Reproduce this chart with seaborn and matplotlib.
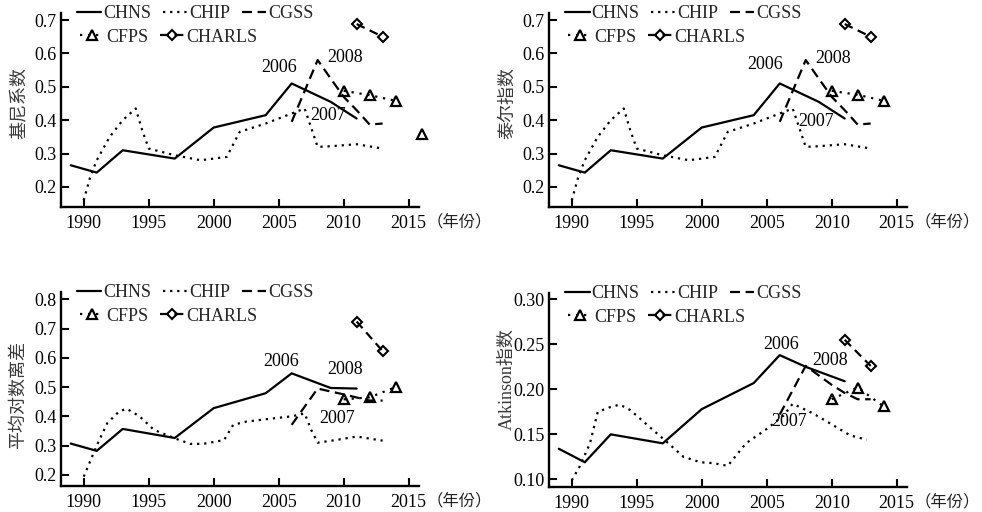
import matplotlib
matplotlib.use("Agg")
import matplotlib.pyplot as plt
import seaborn as sns
from matplotlib.lines import Line2D

sns.set_theme(style="ticks")
plt.rcParams["font.family"] = ["Liberation Serif", "Noto Sans CJK SC"]

# ---- data: Gini coefficient (基尼系数) ----
gini_chns_years = [1989, 1991, 1993, 1997, 2000, 2004, 2006, 2009, 2011]
gini_chns = [0.265, 0.243, 0.310, 0.285, 0.378, 0.415, 0.510, 0.455, 0.405]
gini_chip_years = [1990, 1990.5, 1991, 1992, 1993, 1994, 1994.5, 1995, 1997, 1999,
                   2001, 2002, 2004, 2006, 2007, 2008, 2009, 2011, 2013]
gini_chip = [0.160, 0.230, 0.280, 0.350, 0.400, 0.435, 0.370, 0.315, 0.295, 0.280,
             0.290, 0.365, 0.390, 0.420, 0.435, 0.320, 0.322, 0.328, 0.315]
gini_cgss_years = [2006, 2008, 2010, 2011, 2012, 2013]
gini_cgss = [0.395, 0.580, 0.470, 0.430, 0.387, 0.390]
gini_cfps_years = [2010, 2012, 2014]
gini_cfps = [0.488, 0.475, 0.458]
gini_cfps_2016 = [0.360]
gini_charls_years = [2011, 2013]
gini_charls = [0.688, 0.650]

# ---- data: Theil index (泰尔指数) ----
theil_chns_years = gini_chns_years
theil_chns = [0.265, 0.243, 0.310, 0.285, 0.378, 0.415, 0.510, 0.455, 0.405]
theil_chip_years = gini_chip_years
theil_chip = [0.160, 0.230, 0.280, 0.350, 0.400, 0.435, 0.370, 0.315, 0.295, 0.280,
              0.290, 0.365, 0.390, 0.420, 0.435, 0.320, 0.322, 0.328, 0.315]
theil_cgss_years = gini_cgss_years
theil_cgss = [0.395, 0.580, 0.470, 0.430, 0.387, 0.390]
theil_cfps_years = gini_cfps_years
theil_cfps = [0.488, 0.476, 0.458]
theil_charls_years = gini_charls_years
theil_charls = [0.688, 0.650]

# ---- data: mean log deviation (平均对数离差) ----
mld_chns_years = [1989, 1991, 1993, 1997, 2000, 2004, 2006, 2009, 2011]
mld_chns = [0.307, 0.282, 0.357, 0.326, 0.428, 0.479, 0.547, 0.497, 0.495]
mld_chip_years = [1990, 1991, 1991.8, 1992.7, 1993.3, 1994.3, 1995.4, 1997, 1998.2,
                  1999.2, 2000.8, 2001.5, 2002.5, 2004, 2006, 2007, 2007.5, 2008,
                  2009.4, 2011, 2013]
mld_chip = [0.194, 0.300, 0.376, 0.416, 0.426, 0.400, 0.354, 0.325, 0.306,
            0.306, 0.319, 0.371, 0.382, 0.390, 0.400, 0.410, 0.354, 0.310,
            0.319, 0.331, 0.317]
mld_cgss_years = [2006, 2008, 2010, 2012, 2013]
mld_cgss = [0.371, 0.495, 0.475, 0.454, 0.454]
mld_cfps_years = [2010, 2012, 2014]
mld_cfps = [0.458, 0.465, 0.500]
mld_charls_years = [2011, 2013]
mld_charls = [0.724, 0.623]

# ---- data: Atkinson index (Atkinson指数) ----
atk_chns_years = [1989, 1991, 1993, 1997, 2000, 2004, 2006, 2008, 2011]
atk_chns = [0.134, 0.119, 0.150, 0.140, 0.178, 0.207, 0.238, 0.225, 0.209]
atk_chip_years = [1990, 1990.6, 1991.4, 1992, 1992.9, 1993.7, 1994.5, 1996, 1997.2,
                  1998.6, 1999.9, 2000.9, 2002, 2003.4, 2005, 2006.3, 2007,
                  2008.6, 2009.9, 2011.4, 2012.7]
atk_chip = [0.099, 0.114, 0.140, 0.175, 0.180, 0.183, 0.177, 0.158, 0.143,
            0.125, 0.119, 0.118, 0.115, 0.140, 0.156, 0.171, 0.184,
            0.173, 0.162, 0.149, 0.144]
atk_cgss_years = [2006, 2008, 2010, 2011, 2012, 2013]
atk_cgss = [0.172, 0.226, 0.205, 0.196, 0.189, 0.189]
atk_cfps_years = [2010, 2012, 2014]
atk_cfps = [0.189, 0.202, 0.181]
atk_charls_years = [2011, 2013]
atk_charls = [0.255, 0.226]

series_names = ["CHNS", "CHIP", "CGSS", "CFPS", "CHARLS"]
x_ticks = [1990, 1995, 2000, 2005, 2010, 2015]
year_marks = ["2006", "2008", "2007"]

LW = 1.6
styles = {
    "CHNS": dict(linestyle="-", lw=LW),
    "CHIP": dict(linestyle=(0, (1, 2.2)), lw=LW),
    "CGSS": dict(linestyle=(0, (4.5, 2.5)), lw=LW),
    "CFPS": dict(linestyle=(0, (1, 2.6)), lw=LW, marker="^", markersize=7,
                 markerfacecolor="none", markeredgecolor="black", markeredgewidth=1.6),
    "CHARLS": dict(linestyle=(0, (4, 2.5)), lw=LW, marker="D", markersize=5.5,
                   markerfacecolor="none", markeredgecolor="black", markeredgewidth=1.5),
}

panels = [
    dict(pos=[0.0621, 0.5957, 0.3646, 0.3789], ylabel="基尼系数",
         ylim=(0.14, 0.721), yticks=[0.2, 0.3, 0.4, 0.5, 0.6, 0.7], fmt="{:.1f}",
         data={"CHNS": (gini_chns_years, gini_chns), "CHIP": (gini_chip_years, gini_chip),
               "CGSS": (gini_cgss_years, gini_cgss), "CFPS": (gini_cfps_years, gini_cfps),
               "CHARLS": (gini_charls_years, gini_charls)},
         extra=([2016], gini_cfps_2016),
         marks=[(2005.0, 0.557), (2010.1, 0.589), (2008.8, 0.414)],
         ylab_xy=(-0.114, 0.536)),
    dict(pos=[0.5591, 0.5957, 0.3646, 0.3789], ylabel="泰尔指数",
         ylim=(0.14, 0.721), yticks=[0.2, 0.3, 0.4, 0.5, 0.6, 0.7], fmt="{:.1f}",
         data={"CHNS": (theil_chns_years, theil_chns), "CHIP": (theil_chip_years, theil_chip),
               "CGSS": (theil_cgss_years, theil_cgss), "CFPS": (theil_cfps_years, theil_cfps),
               "CHARLS": (theil_charls_years, theil_charls)},
         extra=None,
         marks=[(2004.9, 0.568), (2010.1, 0.585), (2008.8, 0.396)],
         ylab_xy=(-0.117, 0.536)),
    dict(pos=[0.0621, 0.0508, 0.3646, 0.3789], ylabel="平均对数离差",
         ylim=(0.162, 0.825), yticks=[0.2, 0.3, 0.4, 0.5, 0.6, 0.7, 0.8], fmt="{:.1f}",
         data={"CHNS": (mld_chns_years, mld_chns), "CHIP": (mld_chip_years, mld_chip),
               "CGSS": (mld_cgss_years, mld_cgss), "CFPS": (mld_cfps_years, mld_cfps),
               "CHARLS": (mld_charls_years, mld_charls)},
         extra=None,
         marks=[(2005.2, 0.587), (2010.1, 0.559), (2009.5, 0.393)],
         ylab_xy=(-0.12, 0.469)),
    dict(pos=[0.5591, 0.0488, 0.3646, 0.3789], ylabel="Atkinson指数",
         ylim=(0.0915, 0.307), yticks=[0.10, 0.15, 0.20, 0.25, 0.30], fmt="{:.2f}",
         data={"CHNS": (atk_chns_years, atk_chns), "CHIP": (atk_chip_years, atk_chip),
               "CGSS": (atk_cgss_years, atk_cgss), "CFPS": (atk_cfps_years, atk_cfps),
               "CHARLS": (atk_charls_years, atk_charls)},
         extra=None,
         marks=[(2006.1, 0.250), (2009.9, 0.232), (2006.7, 0.164)],
         ylab_xy=(-0.117, 0.557)),
]

FS = 13
fig = plt.figure(figsize=(9.82, 5.12), dpi=100)

for p in panels:
    ax = fig.add_axes(p["pos"])
    handles = {}
    for name in series_names:
        xs, ys = p["data"][name]
        sns.lineplot(x=xs, y=ys, ax=ax, color="black", clip_on=False, **styles[name])
        handles[name] = Line2D([], [], color="black", **styles[name])
    if p["extra"] is not None:
        ex, ey = p["extra"]
        sns.lineplot(x=ex, y=ey, ax=ax, color="black", clip_on=False, **styles["CFPS"])

    ax.set_xlim(1988.25, 2015.8)
    ax.set_ylim(*p["ylim"])
    ax.set_xticks(x_ticks)
    ax.set_xticklabels([str(t) for t in x_ticks])
    ax.set_yticks(p["yticks"])
    ax.set_yticklabels([p["fmt"].format(t) for t in p["yticks"]])
    ax.tick_params(direction="in", length=6, width=1.5, labelsize=FS, colors="black")
    ax.tick_params(axis="x", pad=6)
    ax.tick_params(axis="y", pad=3)
    for lab in ax.get_xticklabels() + ax.get_yticklabels():
        lab.set_family("Liberation Serif")
    sns.despine(ax=ax)
    for s in ("left", "bottom"):
        ax.spines[s].set_linewidth(1.7)
        ax.spines[s].set_color("black")

    ax.set_ylabel(p["ylabel"], fontsize=FS, color="#3a3a3a",
                  family=["Liberation Serif", "Noto Sans CJK SC"])
    ax.yaxis.label.set_va("center")
    ax.yaxis.set_label_coords(*p["ylab_xy"])
    ax.set_xlabel("")

    # unit label sits right after the last year tick
    ax.annotate("（年份）", xy=(1, 0), xycoords="axes fraction", xytext=(5.5, -11),
                textcoords="offset points", ha="left", va="center", fontsize=11.8,
                family=["Noto Sans CJK TC"], color="#222222")

    for txt, (mx, my) in zip(year_marks, p["marks"]):
        ax.text(mx, my, txt, fontsize=FS, ha="center", va="center",
                family="Liberation Serif", color="black")

    leg1 = ax.legend([handles[n] for n in series_names[:3]], series_names[:3],
                     ncol=3, loc="center left", bbox_to_anchor=(0.045, 0.995),
                     frameon=False, fontsize=FS, handlelength=1.35, handletextpad=0.1,
                     columnspacing=0.65, borderpad=0, borderaxespad=0)
    ax.add_artist(leg1)
    ax.legend([handles[n] for n in series_names[3:]], series_names[3:],
              ncol=2, loc="center left", bbox_to_anchor=(0.053, 0.876),
              frameon=False, fontsize=FS, handlelength=1.35, handletextpad=0.1,
              columnspacing=0.65, borderpad=0, borderaxespad=0)

fig.savefig("out.png", dpi=100)
